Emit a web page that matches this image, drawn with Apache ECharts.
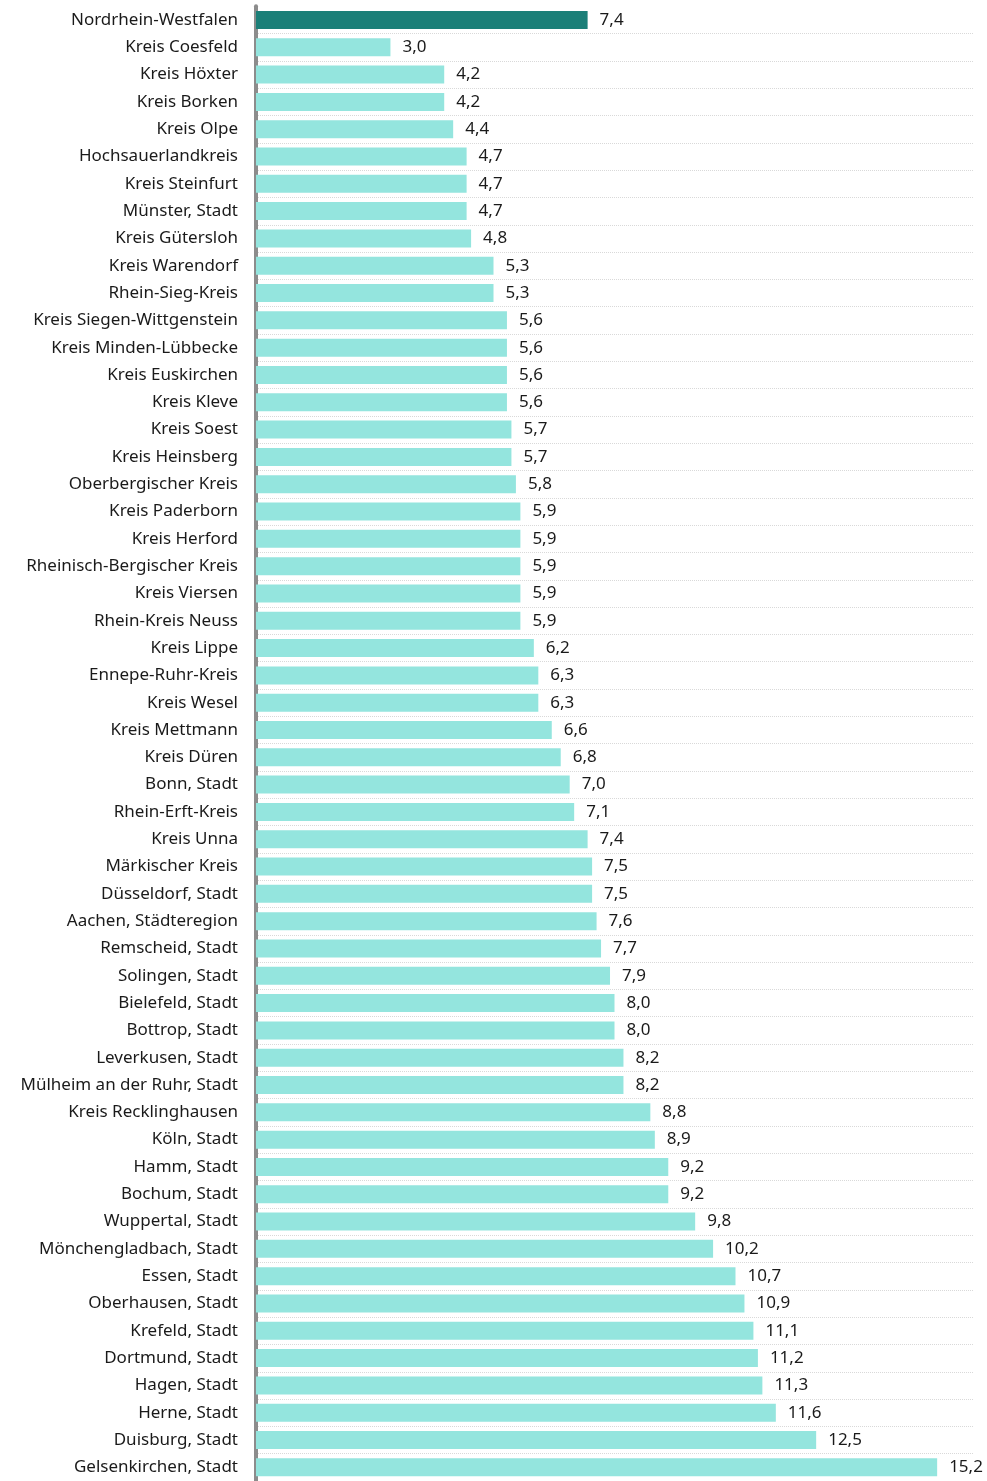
<!DOCTYPE html>
<html><head><meta charset="utf-8">
<script src="https://cdn.jsdelivr.net/npm/echarts@6/dist/echarts.min.js"></script>
<style>html,body{margin:0;padding:0;background:#fff}#c{width:987px;height:1481px}</style>
</head><body><div id="c"></div>
<script>
const categories = ["Nordrhein-Westfalen","Kreis Coesfeld","Kreis Höxter","Kreis Borken","Kreis Olpe","Hochsauerlandkreis","Kreis Steinfurt","Münster, Stadt","Kreis Gütersloh","Kreis Warendorf","Rhein-Sieg-Kreis","Kreis Siegen-Wittgenstein","Kreis Minden-Lübbecke","Kreis Euskirchen","Kreis Kleve","Kreis Soest","Kreis Heinsberg","Oberbergischer Kreis","Kreis Paderborn","Kreis Herford","Rheinisch-Bergischer Kreis","Kreis Viersen","Rhein-Kreis Neuss","Kreis Lippe","Ennepe-Ruhr-Kreis","Kreis Wesel","Kreis Mettmann","Kreis Düren","Bonn, Stadt","Rhein-Erft-Kreis","Kreis Unna","Märkischer Kreis","Düsseldorf, Stadt","Aachen, Städteregion","Remscheid, Stadt","Solingen, Stadt","Bielefeld, Stadt","Bottrop, Stadt","Leverkusen, Stadt","Mülheim an der Ruhr, Stadt","Kreis Recklinghausen","Köln, Stadt","Hamm, Stadt","Bochum, Stadt","Wuppertal, Stadt","Mönchengladbach, Stadt","Essen, Stadt","Oberhausen, Stadt","Krefeld, Stadt","Dortmund, Stadt","Hagen, Stadt","Herne, Stadt","Duisburg, Stadt","Gelsenkirchen, Stadt"];
const values = [7.4,3.0,4.2,4.2,4.4,4.7,4.7,4.7,4.8,5.3,5.3,5.6,5.6,5.6,5.6,5.7,5.7,5.8,5.9,5.9,5.9,5.9,5.9,6.2,6.3,6.3,6.6,6.8,7.0,7.1,7.4,7.5,7.5,7.6,7.7,7.9,8.0,8.0,8.2,8.2,8.8,8.9,9.2,9.2,9.8,10.2,10.7,10.9,11.1,11.2,11.3,11.6,12.5,15.2];
const highlight = "Nordrhein-Westfalen";

const chart = echarts.init(document.getElementById('c'), null, {renderer:'canvas'});
const font = '"Noto Sans", Tahoma, sans-serif';
chart.setOption({
  animation:false,
  grid:{left:256, right:14, top:6.3, bottom:-2.5, containLabel:false},
  xAxis:{type:'value', min:0, max:16, show:false, splitLine:{show:false}},
  yAxis:{type:'category', data:categories, inverse:true, offset:2,
    axisLine:{show:true, lineStyle:{color:'#8c8c8c', width:4}},
    axisTick:{show:false},
    axisLabel:{margin:16, color:'#1a1a1a', fontSize:17, fontFamily:font},
    splitLine:{show:true, interval:(i)=>i!==0, lineStyle:{color:'#d9d9d9', width:1, type:'dotted'}}
  },
  series:[{type:'bar', barWidth:18,
    data: values.map((v,i)=>({value:v, itemStyle:{color: categories[i]===highlight ? '#1b7f78' : '#94e5de'}})),
    label:{show:true, position:'right', distance:12, color:'#1a1a1a', fontSize:17, fontFamily:font,
      formatter:p=>p.value.toFixed(1).replace('.',',')}
  }]
});
</script></body></html>
